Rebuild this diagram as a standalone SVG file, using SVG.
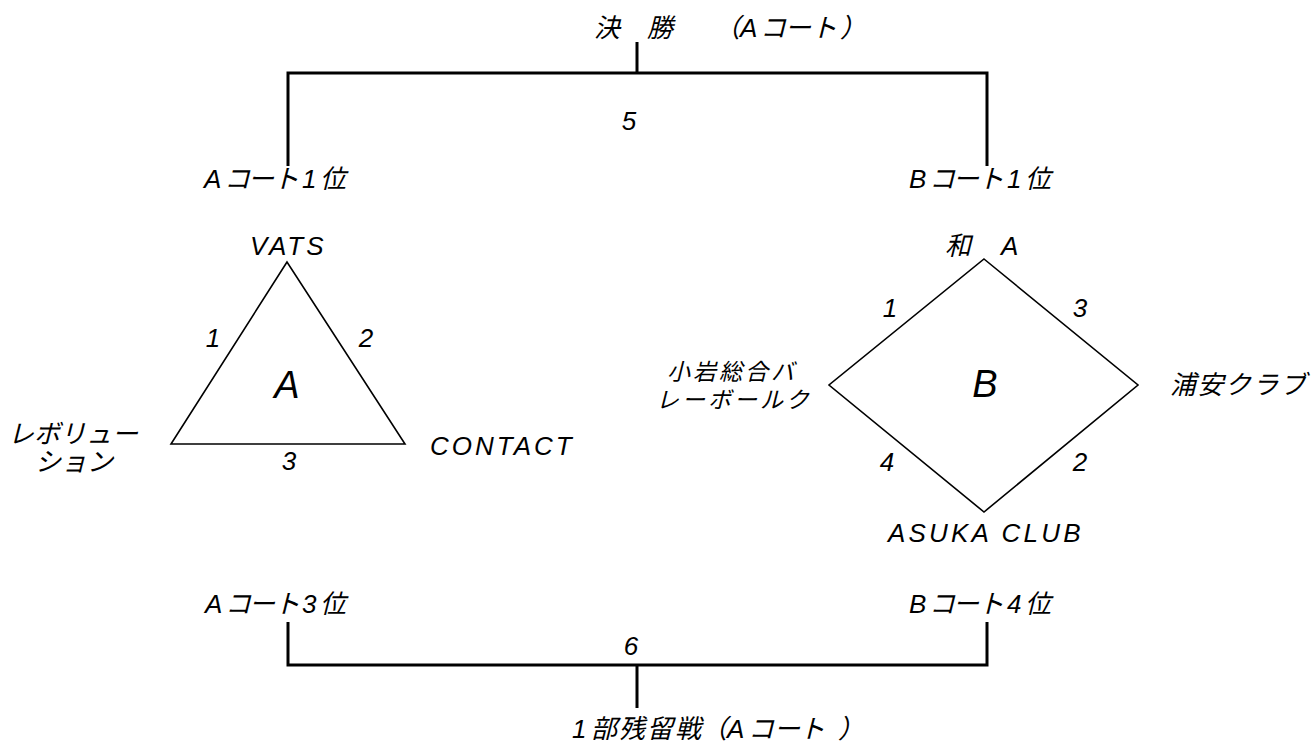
<svg xmlns="http://www.w3.org/2000/svg" width="1312" height="743" viewBox="0 0 1312 743">
<style>
text{font-family:"Liberation Sans","Noto Sans CJK JP",sans-serif;font-style:italic;fill:#000;font-size:26px}
.lat{letter-spacing:3px}
.big{font-size:38px}
.m{text-anchor:middle}
.sm{font-size:23px;letter-spacing:3px}
.br{fill:none;stroke:#000;stroke-width:3}
.sh{fill:#fff;stroke:#000;stroke-width:1.6;stroke-linejoin:miter}
</style>
<rect width="1312" height="743" fill="#fff"/>
<g id="connectors">
<path class="br" d="M637,42V73M288,166V73H987V166"/>
<path class="br" d="M288,622V665H987V622M637,665V708"/>
</g>
<g id="final">
<text y="37" x="594 647">決勝</text>
<text y="37" x="714 740 760 785 811 840">（Aコート）</text>
<text x="629" y="130" class="m">5</text>
</g>
<g id="a1"><text y="188" x="204 224 248 273 302 320">Aコート1位</text></g>
<g id="b1"><text y="188" x="909 929 953 978 1007 1025">Bコート1位</text></g>
<g id="courtA">
<polygon class="sh" points="287,262 171,444 405,444"/>
<text x="250" y="255" class="lat">VATS</text>
<text x="213" y="347" class="m">1</text>
<text x="366" y="347" class="m">2</text>
<text x="289" y="470" class="m">3</text>
<text x="287" y="398" class="m big">A</text>
<text x="8" y="443">レボリュー</text>
<text x="35" y="471">ション</text>
<text x="430" y="455" class="lat">CONTACT</text>
</g>
<g id="courtB">
<polygon class="sh" points="984,259 1138,385 984,512 829,385"/>
<text y="255" x="945 1001">和A</text>
<text x="890" y="317" class="m">1</text>
<text x="1080" y="317" class="m">3</text>
<text x="887" y="471" class="m">4</text>
<text x="1080" y="471" class="m">2</text>
<text x="985" y="397" class="m big">B</text>
<text x="667" y="380" class="sm">小岩総合バ</text>
<text x="656" y="408" class="sm">レーボールク</text>
<text x="1170" y="394" style="letter-spacing:1.5px">浦安クラブ</text>
<text x="888" y="542" style="letter-spacing:3.2px">ASUKA CLUB</text>
</g>
<g id="a3"><text y="613" x="205 225 249 274 302 320">Aコート3位</text></g>
<g id="b4"><text y="613" x="909 929 953 978 1007 1025">Bコート4位</text></g>
<g id="relegation">
<text x="631" y="655" class="m">6</text>
<text y="738" x="572 591 619 647 675">1部残留戦</text>
<text y="738" x="701 727 748 774 799 838">（Aコート）</text>
</g>
</svg>
